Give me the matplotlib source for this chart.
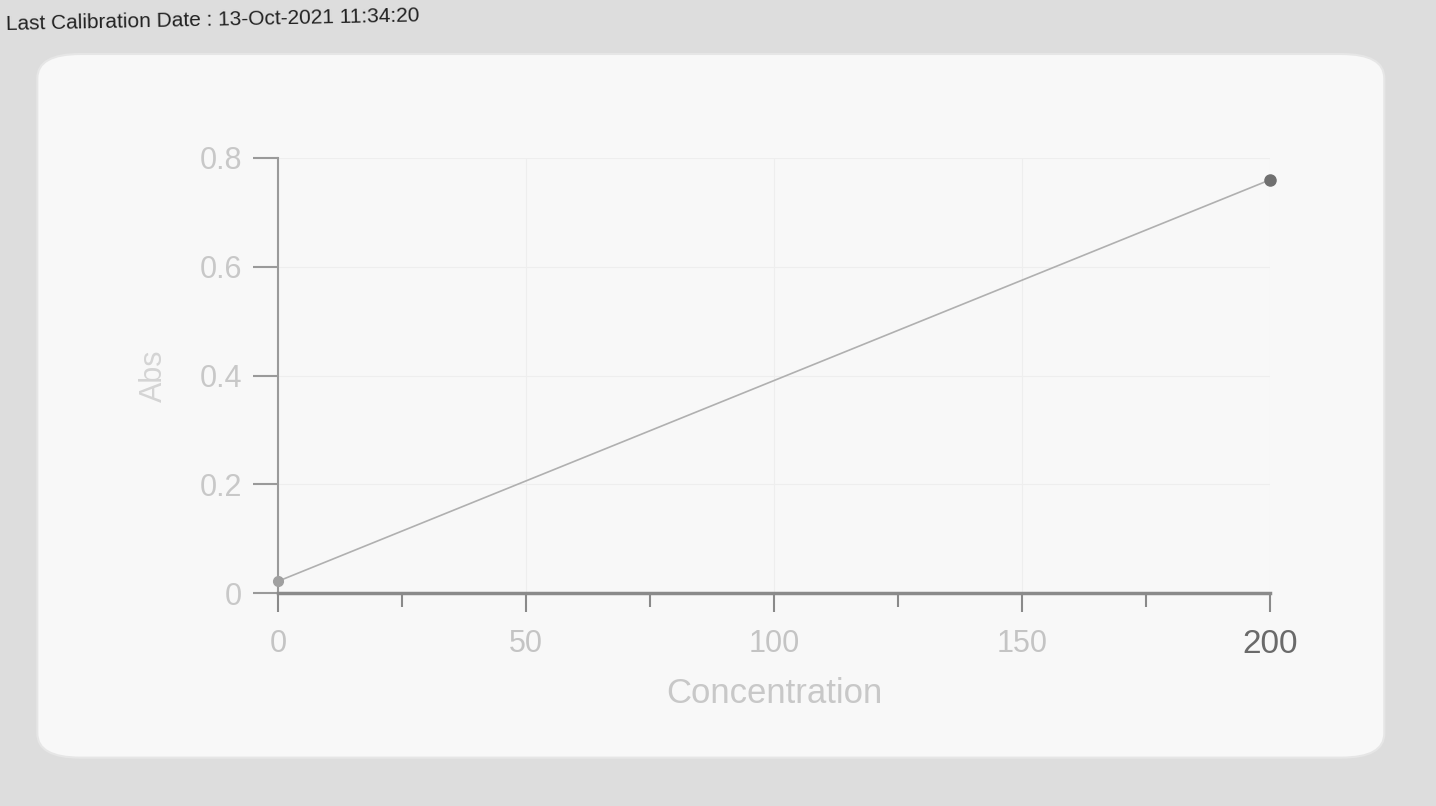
import matplotlib.pyplot as plt
from matplotlib.patches import FancyBboxPatch

# калибровочные точки
conc = [0, 200]
absorb = [0.022, 0.76]

x_major = [0, 50, 100, 150, 200]
x_minor = [25, 75, 125, 175]
y_ticks = [0, 0.2, 0.4, 0.6, 0.8]
y_labels = ['0', '0.2', '0.4', '0.6', '0.8']

fig = plt.figure(figsize=(14.36, 8.06), dpi=100, facecolor='#dddddd')

# светлая панель экрана
panel = FancyBboxPatch((0.026, 0.06), 0.938, 0.873,
                       boxstyle='round,pad=0,rounding_size=0.03',
                       transform=fig.transFigure, facecolor='#f8f8f8',
                       edgecolor='#e6e6e6', linewidth=1.5, zorder=-5)
fig.patches.append(panel)

fig.text(0.004, 0.975, 'Last Calibration Date : 13-Oct-2021 11:34:20',
         fontsize=15, color='#222222', ha='left', va='center',
         family='Liberation Sans', rotation=1.2)

ax = fig.add_axes([0.1936, 0.264, 0.691, 0.54])
ax.set_zorder(2)
ax.patch.set_alpha(0)

ax.plot(conc, absorb, '-', color='#b0b0b0', lw=1.2, zorder=2, clip_on=False)
ax.plot(conc[1:], absorb[1:], 'o', color='#707070', ms=8, zorder=3, clip_on=False)
ax.plot(conc[:1], absorb[:1], 'o', color='#a0a0a0', ms=7, zorder=3, clip_on=False)

ax.set_xlim(0, 200)
ax.set_ylim(0, 0.8)
for s in ['top', 'right']:
    ax.spines[s].set_visible(False)
ax.spines['left'].set_color('#9a9a9a')
ax.spines['bottom'].set_color('#8a8a8a')
ax.spines['bottom'].set_linewidth(2.5)
ax.spines['left'].set_linewidth(1.5)

ax.set_xticks(x_major)
ax.set_xticks(x_minor, minor=True)
ax.set_yticks(y_ticks)
ax.set_yticklabels(y_labels)
ax.tick_params(axis='x', which='both', direction='out', length=14, width=1.5,
               color='#8a8a8a', labelcolor='#c4c4c4', labelsize=22, pad=12)
ax.tick_params(axis='x', which='minor', length=10)
ax.tick_params(axis='y', direction='out', length=18, width=1.5,
               color='#9a9a9a', labelcolor='#c8c8c8', labelsize=22, pad=8)
ax.get_xticklabels()[-1].set_color('#6a6a6a')
ax.get_xticklabels()[-1].set_fontsize(24)
for t in ax.get_xticklabels() + ax.get_yticklabels():
    t.set_family('Liberation Sans')

ax.grid(True, color='#eeeeee', lw=0.8)
ax.set_xlabel('Concentration', fontsize=25, color='#c8c8c8',
              family='Liberation Sans', labelpad=12)
ax.set_ylabel('Abs', fontsize=22, color='#d4d4d4',
              family='Liberation Sans', labelpad=22)

fig.savefig('out.png', dpi=100, facecolor=fig.get_facecolor())
